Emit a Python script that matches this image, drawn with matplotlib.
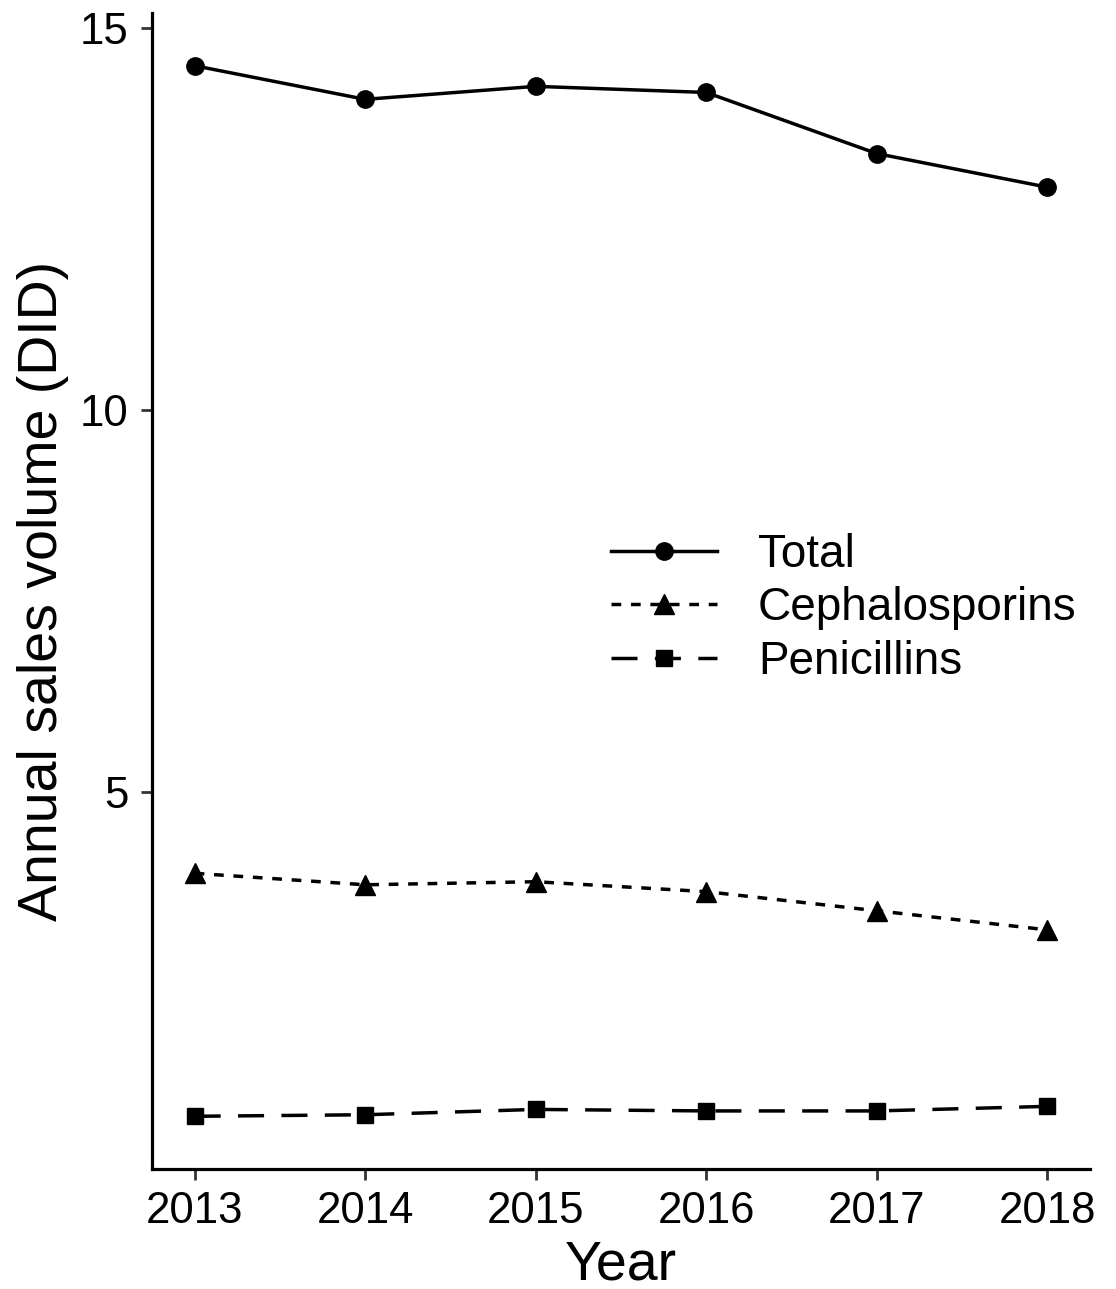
import matplotlib.pyplot as plt

plt.rcParams['font.family'] = ['Liberation Sans', 'DejaVu Sans']

# Data
years = [2013, 2014, 2015, 2016, 2017, 2018]
total = [14.50, 14.06, 14.23, 14.15, 13.35, 12.91]
cephalosporins = [3.93, 3.78, 3.82, 3.69, 3.44, 3.19]
penicillins = [0.75, 0.77, 0.84, 0.82, 0.82, 0.88]

fig = plt.figure(figsize=(11.16, 12.89), dpi=100)
ax = fig.add_axes([152 / 1116, 1 - 1169 / 1289, (1090 - 152) / 1116, (1169 - 13) / 1289])

ax.plot(years, total, color='black', lw=2.5, linestyle='-', marker='o', markersize=12.5, label='Total')
ax.plot(years, cephalosporins, color='black', lw=2.5, linestyle=(0, (2.8, 2.8)), marker='^', markersize=14,
        label='Cephalosporins')
ax.plot(years, penicillins, color='black', lw=2.5, linestyle=(0, (7.5, 5)), marker='s', markersize=12,
        label='Penicillins')

ax.set_xlim(2012.75, 2018.25)
ax.set_ylim(0.06, 15.19)
ax.set_xticks(years)
ax.set_yticks([5, 10, 15])

for side in ['top', 'right']:
    ax.spines[side].set_visible(False)
for side in ['left', 'bottom']:
    ax.spines[side].set_linewidth(2.3)
ax.tick_params(axis='both', length=8, width=2, color='#333333', labelsize=31.5, labelcolor='black')
ax.tick_params(axis='x', pad=8)
ax.tick_params(axis='y', pad=9)

ax.set_xlabel('Year', fontsize=40, labelpad=5)
ax.set_ylabel('Annual sales volume (DID)', fontsize=40, labelpad=8)

leg = ax.legend(loc='upper left', bbox_to_anchor=(0.4456, 0.5856), frameon=False,
                fontsize=33, handlelength=2.3, handletextpad=0.9, labelspacing=0.2)

fig.savefig('out.png', dpi=100)
